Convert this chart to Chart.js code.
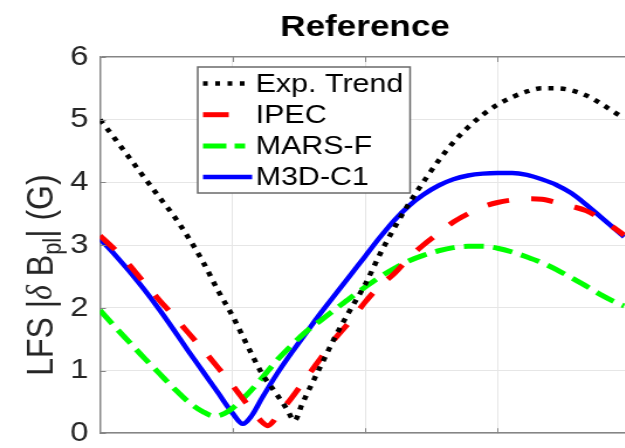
<!DOCTYPE html>
<html>
<head>
<meta charset="utf-8">
<style>
  html, body { margin: 0; padding: 0; background: #fff; overflow: hidden; width: 625px; height: 448px; }
  #wrap { transform: scaleX(1.17); transform-origin: 0 0; width: 600px; height: 460px; }
</style>
<script src="https://cdn.jsdelivr.net/npm/chart.js@4/dist/chart.umd.min.js"></script>
</head>
<body>
<div id="wrap"><canvas id="c" width="600" height="460"></canvas></div>
<script>
// Phase angles (deg) and LFS |dB_pl| (G) for each model
const expPhase = [0,10,20,30,40,50,60,70,80,90,100,110,120,127,132,137,140,150,160,170,180,190,200,210,220,230,240,250,260,270,280,290,300,310,320,330,340,350,356];
const expField = [5.00,4.70,4.39,4.08,3.77,3.47,3.12,2.73,2.28,1.87,1.40,0.95,0.62,0.38,0.20,0.45,0.60,1.08,1.55,1.97,2.37,2.85,3.28,3.67,4.02,4.35,4.64,4.88,5.08,5.24,5.36,5.45,5.50,5.50,5.47,5.39,5.26,5.11,5.03];

const ipecPhase = [0,10,20,30,40,50,60,70,80,90,100,110,114,118,120,130,140,150,160,170,180,190,200,210,220,230,240,250,260,270,280,290,300,310,320,330,340,350,356];
const ipecField = [3.15,2.93,2.68,2.40,2.13,1.87,1.60,1.33,1.05,0.76,0.46,0.18,0.12,0.20,0.27,0.56,0.88,1.20,1.52,1.79,2.09,2.35,2.55,2.80,3.01,3.19,3.37,3.50,3.61,3.68,3.72,3.74,3.73,3.68,3.62,3.55,3.42,3.26,3.16];

const marsPhase = [0,10,20,30,40,50,60,70,78,85,90,100,110,120,130,140,150,160,170,180,190,200,210,220,230,240,250,260,270,280,290,300,310,320,330,340,350,356];
const marsField = [1.96,1.70,1.45,1.20,0.96,0.72,0.50,0.34,0.27,0.32,0.40,0.62,0.88,1.16,1.40,1.62,1.80,1.98,2.16,2.33,2.49,2.63,2.75,2.84,2.91,2.96,2.98,2.98,2.95,2.89,2.81,2.72,2.61,2.48,2.35,2.21,2.09,2.03];

const m3dPhase = [0,10,20,30,40,50,60,70,80,90,97,103,110,120,130,140,150,160,170,180,190,200,210,220,230,240,250,260,270,280,290,300,310,320,330,340,350,356];
const m3dField = [3.10,2.85,2.58,2.29,1.98,1.65,1.31,0.98,0.65,0.32,0.15,0.28,0.56,0.94,1.28,1.60,1.92,2.22,2.52,2.82,3.12,3.40,3.63,3.81,3.95,4.05,4.11,4.14,4.15,4.15,4.12,4.05,3.96,3.83,3.65,3.45,3.25,3.13];

const seriesLabels = ['Exp. Trend', 'IPEC', 'MARS-F', 'M3D-C1'];
const yTicks = [0, 1, 2, 3, 4, 5, 6];

const FONT = '"Liberation Sans", Arial, Helvetica, sans-serif';
const AXIS_GRAY = '#858585';
const TEXT_DARK = '#262626';

const toPoints = (xs, ys) => xs.map((x, i) => ({ x, y: ys[i] }));

// Short inward tick marks on the axes box
const innerTicks = {
  id: 'innerTicks',
  afterDatasetsDraw(chart) {
    const { ctx, chartArea: ca, scales } = chart;
    ctx.save();
    ctx.strokeStyle = AXIS_GRAY;
    ctx.lineWidth = 1;
    ctx.beginPath();
    yTicks.forEach(v => {
      const y = Math.round(scales.y.getPixelForValue(v)) + 0.5;
      ctx.moveTo(ca.left, y); ctx.lineTo(ca.left + 5, y);
    });
    [90, 180, 270].forEach(v => {
      const x = Math.round(scales.x.getPixelForValue(v)) + 0.5;
      ctx.moveTo(x, ca.bottom); ctx.lineTo(x, ca.bottom - 5);
      ctx.moveTo(x, ca.top); ctx.lineTo(x, ca.top + 5);
    });
    ctx.stroke();
    ctx.restore();
  }
};

// Rotated y-axis title with italic delta and subscript
const yTitle = {
  id: 'yTitle',
  afterDraw(chart) {
    const { ctx, chartArea: ca } = chart;
    const size = 32;
    const parts = [
      { t: 'LFS |', f: `${size}px ${FONT}`, dy: 0 },
      { t: '\u03B4', f: `italic ${size}px "Liberation Serif", serif`, dy: 0 },
      { t: ' B', f: `${size}px ${FONT}`, dy: 0 },
      { t: 'pl', f: `${Math.round(size * 0.7)}px ${FONT}`, dy: size * 0.32 },
      { t: '| (G)', f: `${size}px ${FONT}`, dy: 0 }
    ];
    ctx.save();
    let total = 0;
    parts.forEach(p => { ctx.font = p.f; p.w = ctx.measureText(p.t).width; total += p.w; });
    ctx.translate(36, (ca.top + ca.bottom) / 2 + 30);
    ctx.rotate(-Math.PI / 2);
    ctx.textBaseline = 'middle';
    ctx.fillStyle = TEXT_DARK;
    let x = -total / 2;
    parts.forEach(p => { ctx.font = p.f; ctx.fillText(p.t, x, p.dy); x += p.w; });
    ctx.restore();
  }
};

// Boxed legend inside the axes, using each dataset's own line style
const boxLegend = {
  id: 'boxLegend',
  afterDraw(chart) {
    const { ctx } = chart;
    const left = 169, top = 67, width = 181.5, height = 126;
    ctx.save();
    ctx.fillStyle = '#fff';
    ctx.fillRect(left, top, width, height);
    ctx.strokeStyle = '#6a6a6a';
    ctx.lineWidth = 1.5;
    ctx.strokeRect(left, top, width, height);
    chart.data.datasets.forEach((ds, i) => {
      const cy = top + 16.5 + i * 31.2;
      ctx.beginPath();
      ctx.setLineDash(ds.legendDash || ds.borderDash || []);
      ctx.lineCap = 'butt';
      ctx.strokeStyle = ds.borderColor;
      ctx.lineWidth = ds.borderWidth;
      ctx.moveTo(left + 4.5, cy);
      ctx.lineTo(left + 46.5, cy);
      ctx.stroke();
      ctx.setLineDash([]);
      ctx.fillStyle = '#000';
      ctx.font = `26px ${FONT}`;
      ctx.textBaseline = 'middle';
      ctx.fillText(ds.label, left + 49.5, cy + 1);
    });
    ctx.restore();
  }
};

const lineDefaults = { pointRadius: 0, fill: false, cubicInterpolationMode: 'monotone', borderCapStyle: 'butt' };

new Chart(document.getElementById('c'), {
  type: 'line',
  data: {
    datasets: [
      { ...lineDefaults, label: seriesLabels[0], data: toPoints(expPhase, expField), borderColor: '#000000', borderWidth: 4.5, borderDash: [4.5, 6], legendDash: [4, 6.5] },
      { ...lineDefaults, label: seriesLabels[1], data: toPoints(ipecPhase, ipecField), borderColor: '#ff0000', borderWidth: 5, borderDash: [19, 19], legendDash: [22, 40] },
      { ...lineDefaults, label: seriesLabels[2], data: toPoints(marsPhase, marsField), borderColor: '#00ff00', borderWidth: 5, borderDash: [17, 8], legendDash: [20, 7, 9, 20] },
      { ...lineDefaults, label: seriesLabels[3], data: toPoints(m3dPhase, m3dField), borderColor: '#0000ff', borderWidth: 4.5 }
    ]
  },
  options: {
    responsive: false,
    animation: false,
    devicePixelRatio: 1,
    layout: { padding: { left: 55.5, right: 61.5, top: 0, bottom: 20 } },
    plugins: {
      legend: { display: false },
      tooltip: { enabled: false },
      title: {
        display: true,
        text: 'Reference',
        fullSize: false,
        color: '#000',
        font: { family: FONT, size: 30, weight: 'bold' },
        padding: { top: 9.5, bottom: 11.5 }
      }
    },
    scales: {
      x: {
        type: 'linear',
        min: 0,
        max: 360,
        ticks: { display: false, stepSize: 90 },
        grid: { color: ctx => (ctx.tick && ctx.tick.value === 360 ? AXIS_GRAY : '#e6e6e6'), lineWidth: 1, drawTicks: false },
        border: { color: AXIS_GRAY, width: 1.5 }
      },
      y: {
        min: 0,
        max: 6,
        afterFit: s => { s.width = 30; },
        ticks: { stepSize: 1, padding: 10, color: TEXT_DARK, font: { family: FONT, size: 28 } },
        grid: { color: ctx => (ctx.tick && ctx.tick.value === 6 ? AXIS_GRAY : '#e6e6e6'), lineWidth: ctx => (ctx.tick && ctx.tick.value === 6 ? 1.5 : 1), drawTicks: false },
        border: { color: AXIS_GRAY, width: 1.5 }
      }
    }
  },
  plugins: [innerTicks, yTitle, boxLegend]
});
</script>
</body>
</html>
